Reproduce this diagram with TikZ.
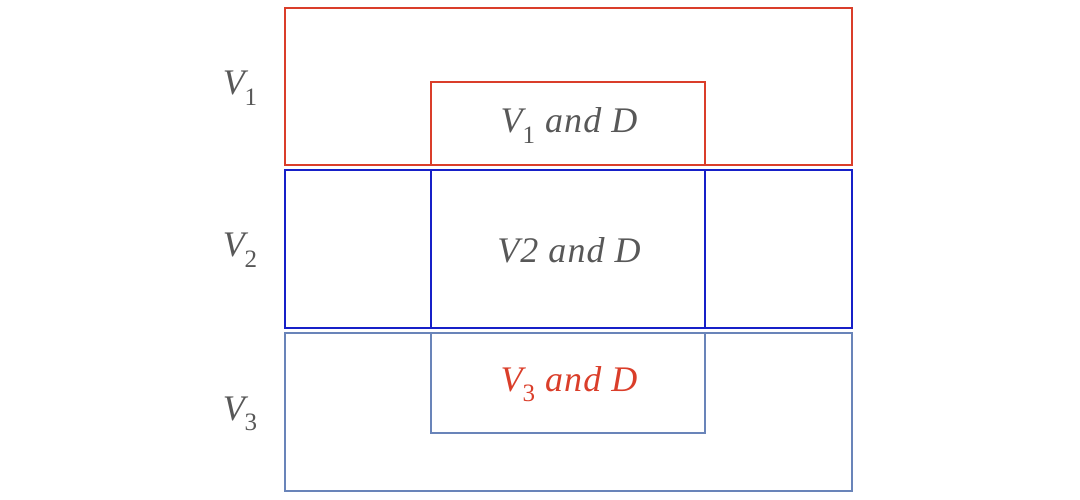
\documentclass[tikz,border=0pt]{standalone}
\usepackage{fontspec}
\setmainfont{Liberation Serif}
\newfontfamily\labelfont[LetterSpace=3]{Liberation Serif}
\definecolor{boxred}{RGB}{218,62,42}
\definecolor{boxblue}{RGB}{22,32,200}
\definecolor{boxsteel}{RGB}{105,132,185}
\definecolor{txtgray}{RGB}{88,88,88}
\newcommand{\Vs}[1]{\textit{V}\raisebox{-0.28em}{\fontsize{25}{25}\selectfont\upshape #1}}
\begin{document}
\begin{tikzpicture}[x=1pt,y=-1pt]
        \tikzstyle{every node}=[font=\labelfont\fontsize{36}{38}\selectfont\itshape, text=txtgray, anchor=base];
        \useasboundingbox (0,0) rectangle (1080,500);
        %outer and inner boxes, one pair per set
        \draw[boxred, line width=2.2pt] (285,8) rectangle (852,165);
        \draw[boxred, line width=2.2pt] (431,82) rectangle (705,165);
        \draw[boxblue, line width=2.2pt] (285,170) rectangle (852,328);
        \draw[boxblue, line width=2.2pt] (431,170) rectangle (705,328);
        \draw[boxsteel, line width=2.2pt] (285,333) rectangle (852,491);
        \draw[boxsteel, line width=2.2pt] (431,333) rectangle (705,433);
        %labels, placed at their baselines
        \node (v1) at (240,95) {\Vs{1}};
        \node (v2) at (240,257) {\Vs{2}};
        \node (v3) at (240,420) {\Vs{3}};
        \node (v1d) at (569,133) {\Vs{1} and D};
        \node (v2d) at (569,262) {V2 and D};
        \node[text=boxred] (v3d) at (569,391) {\Vs{3} and D};
\end{tikzpicture}
\end{document}
